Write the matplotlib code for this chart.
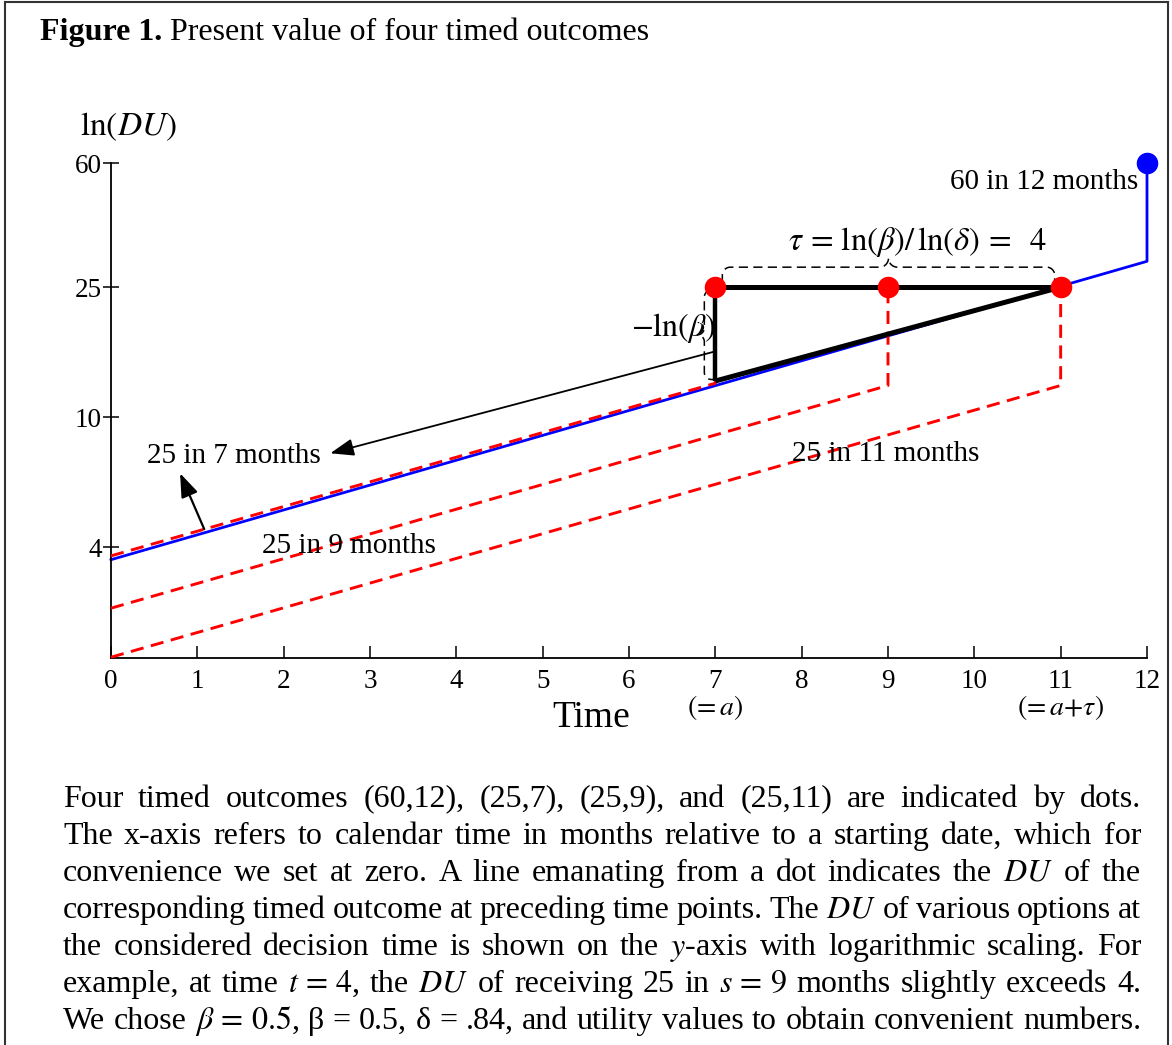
import matplotlib
matplotlib.use('Agg')
import matplotlib.pyplot as plt
import numpy as np
from matplotlib.transforms import blended_transform_factory
from matplotlib.ticker import NullLocator, FixedLocator, FixedFormatter
from matplotlib.lines import Line2D

plt.rcParams['font.family'] = ['Liberation Serif', 'DejaVu Serif']
plt.rcParams['mathtext.fontset'] = 'stix'

# ---------------- data ----------------
blue_t = [0, 12, 12]              # DU of 60 in 12 months
blue_v = [3.66, 30, 60]
red_s = [7, 9, 11]                # delivery months of the 25 outcomes
red_start = [3.76, 2.60, 1.84]    # DU at time 0
red_corner = [12.7, 12.5, 12.5]   # DU just before delivery
red_top = [25, 25, 25]            # DU at delivery
blue_dot_t, blue_dot_v = [12], [60]
black_h_t, black_h_v = [7, 11], [25, 25]
black_v_t, black_v_v = [7, 7], [25, 12.9]
black_d_t, black_d_v = [7, 11], [12.9, 25]
xticks = list(range(13))
yticks = [4, 10, 25, 60]
ytick_labels = ['4', '10', '25', '60']

caption_lines = [
    "Four timed outcomes (60,12), (25,7), (25,9), and (25,11) are indicated by dots.",
    "The x-axis refers to calendar time in months relative to a starting date, which for",
    "convenience we set at zero. A line emanating from a dot indicates the $DU$ of the",
    "corresponding timed outcome at preceding time points. The $DU$ of various options at",
    "the considered decision time is shown on the $y$-axis with logarithmic scaling. For",
    "example, at time $t\\,=\\,4$, the $DU$ of receiving 25 in $s\\,=\\,9$ months slightly exceeds 4.",
    "We chose $\\beta\\,=\\,0.5$, β = 0.5, δ = .84, and utility values to obtain convenient numbers.",
]

W, H = 1172, 1045
fig = plt.figure(figsize=(W / 100, H / 100), dpi=100)
ax = fig.add_axes([111 / W, 1 - 658 / H, 1036 / W, 495 / H])

ax.set_yscale('log')
ax.set_xlim(0, 12)
ax.set_ylim(1.83, 60)
ax.yaxis.set_major_locator(FixedLocator(yticks))
ax.yaxis.set_major_formatter(FixedFormatter(ytick_labels))
ax.yaxis.set_minor_locator(NullLocator())
ax.set_xticks(xticks)
ax.set_xticklabels([str(x) for x in xticks])
for s in ['top', 'right']:
    ax.spines[s].set_visible(False)
for s in ['left', 'bottom']:
    ax.spines[s].set_linewidth(1.3)
ax.tick_params(axis='x', direction='in', length=8.5, width=1.1, labelsize=19.5, pad=8)
ax.tick_params(axis='y', direction='inout', length=11, width=1.1, labelsize=19.5, pad=1)

# blue line
ax.plot(blue_t, blue_v, color='#0000ff', lw=2.0, clip_on=False, zorder=2)
# red dashed lines
for s, v0, vc, vt in zip(red_s, red_start, red_corner, red_top):
    ax.plot([0, s, s], [v0, vc, vt], color='#ff0000', lw=2.1, dashes=(4.5, 2.6),
            clip_on=False, zorder=3)
# black thick triangle
ax.plot(black_h_t, black_h_v, color='k', lw=3.6, zorder=4, solid_capstyle='butt')
ax.plot(black_v_t, black_v_v, color='k', lw=3.2, zorder=4, solid_capstyle='butt')
ax.plot(black_d_t, black_d_v, color='k', lw=3.6, zorder=4, solid_capstyle='butt')
# dots
ax.plot(red_s, red_top, 'o', color='#ff0000', ms=14.5, zorder=6, clip_on=False)
ax.plot(blue_dot_t, blue_dot_v, 'o', color='#0000ff', ms=14.5, zorder=6, clip_on=False)

fig.canvas.draw()
renderer = fig.canvas.get_renderer()
inv = ax.transData.inverted()


def brace(p0, p1, h, tip, r):
    """curly brace between display points p0, p1, bulging to the left of p0->p1"""
    p0 = np.asarray(p0, float)
    p1 = np.asarray(p1, float)
    d = p1 - p0
    L = np.hypot(*d)
    u = d / L
    v = np.array([-u[1], u[0]])
    pts = [(0, 0), (0, h - r)]
    th = np.linspace(np.pi, np.pi / 2, 20)
    pts += [(r + r * np.cos(t), h - r + r * np.sin(t)) for t in th]
    m = L / 2
    th = np.linspace(-np.pi / 2, 0, 20)
    pts += [(m - tip + tip * np.cos(t), h + tip + tip * np.sin(t)) for t in th]
    right = [(L - a, b) for (a, b) in reversed(pts)]
    allp = pts + right
    disp = np.array([p0 + a * u + b * v for a, b in allp])
    dat = inv.transform(disp)
    ax.plot(dat[:, 0], dat[:, 1], color='k', lw=1.1, dashes=(6, 3.5), clip_on=False, zorder=5)


pa = ax.transData.transform((black_h_t[0], black_h_v[0]))
pb = ax.transData.transform((black_h_t[1], black_h_v[1]))
brace(pa + np.array([7, 4]), pb + np.array([-6, 4]), 16, 9, 8)
pc = ax.transData.transform((black_v_t[1], red_corner[1]))
# vertical brace on the left of the vertical black segment, bulging left
brace(pc + np.array([2, 6]), pa + np.array([2, -3]), 13, 7, 7)

# arrows
ax.annotate('', xy=(2.54, 7.75), xytext=(7.0, 15.9),
            arrowprops=dict(arrowstyle='-|>,head_length=0.6,head_width=0.22', color='k',
                            lw=1.3, mutation_scale=24, shrinkA=0, shrinkB=0), zorder=5)
ax.annotate('', xy=(0.80, 6.73), xytext=(1.08, 4.54),
            arrowprops=dict(arrowstyle='-|>,head_length=0.6,head_width=0.22', color='k',
                            lw=1.6, mutation_scale=24, shrinkA=0, shrinkB=0), zorder=5)

# labels in the plot
lab_fs = 21
ax.text(0.413, 7.22, '25 in 7 months', fontsize=lab_fs, ha='left', va='baseline', zorder=7)
ax.text(1.745, 3.84, '25 in 9 months', fontsize=lab_fs, ha='left', va='baseline', zorder=7)
ax.text(7.89, 7.32, '25 in 11 months', fontsize=lab_fs, ha='left', va='baseline', zorder=7)
ax.text(11.90, 49.9, '60 in 12 months', fontsize=lab_fs, ha='right', va='baseline', zorder=7)
ax.text(9.34, 34.4, r'$\tau\,=\,\mathrm{ln}(\beta)/\,\mathrm{ln}(\delta)\,=\;\ 4$', fontsize=23.5,
        ha='center', va='center', zorder=7)
ax.text(7.01, 18.7, r'$-\mathrm{ln}(\beta)$', fontsize=23, ha='right', va='center', zorder=7)

bt = blended_transform_factory(ax.transData, fig.transFigure)
ax.text(7, 1 - 708 / H, r'$(\!{=}a)$', fontsize=20, ha='center', va='center', transform=bt)
ax.text(11, 1 - 708 / H, r'$(\!{=}a{+}\tau)$', fontsize=20, ha='center', va='center', transform=bt)

fig.text(591 / W, 1 - 718 / H, 'Time', fontsize=27, ha='center', va='center')
fig.text(80 / W, 1 - 127 / H, r'$\mathrm{ln}(DU)$', fontsize=24, ha='left', va='center')

# title
t1 = fig.text(40 / W, 1 - 40 / H, 'Figure 1.', fontsize=23, fontweight='bold', ha='left', va='baseline')
w1 = t1.get_window_extent(renderer).width
fig.text((40 + w1) / W, 1 - 40 / H, ' Present value of four timed outcomes', fontsize=23,
         ha='left', va='baseline')

# caption, justified
cap_fs = 23
x_left, x_right = 63, 1141
for k, line in enumerate(caption_lines):
    y = 1 - (806.7 + 37 * k) / H
    words = line.split(' ')
    txts = [fig.text(0, y, w, fontsize=cap_fs, ha='left', va='baseline') for w in words]
    widths = [t.get_window_extent(renderer).width for t in txts]
    gap = (x_right - x_left - sum(widths)) / (len(words) - 1)
    x = x_left
    for t, wd in zip(txts, widths):
        t.set_x(x / W)
        x += wd + gap

# frame
for xs, ys in [([5, 5], [0, H - 2]), ([5, 1168], [H - 2, H - 2]), ([1168, 1168], [0, H - 2])]:
    fig.add_artist(Line2D([a / W for a in xs], [b / H for b in ys], color='#333333', lw=1.5))

fig.savefig('out.png', dpi=100)
